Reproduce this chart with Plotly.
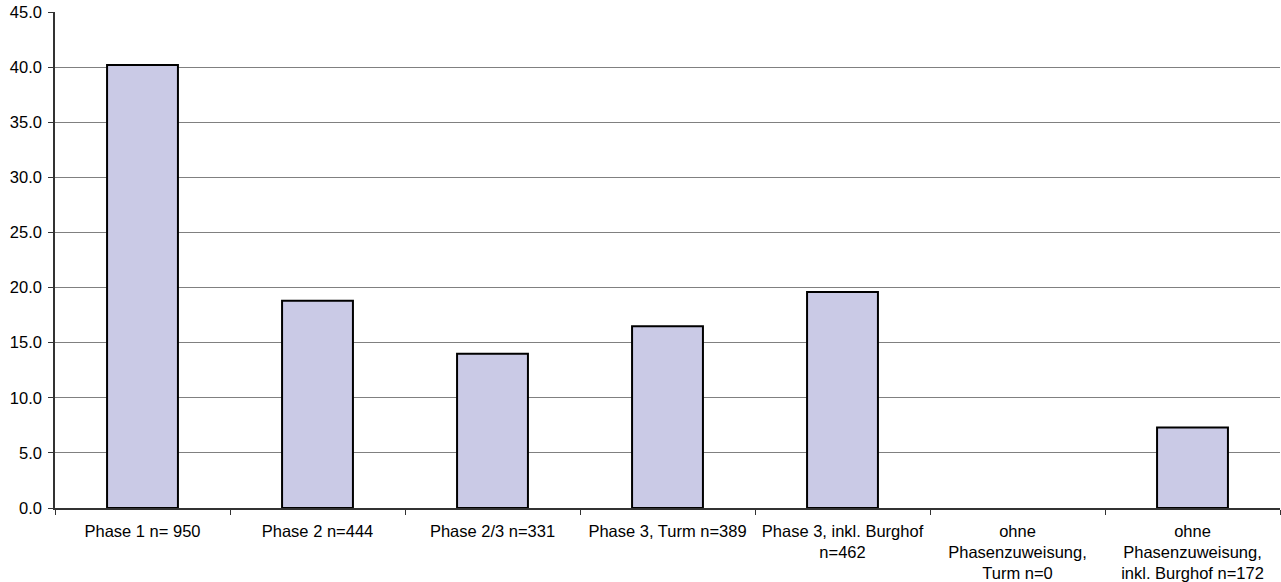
import plotly.graph_objects as go

categories = [
    "Phase 1 n= 950",
    "Phase 2 n=444",
    "Phase 2/3 n=331",
    "Phase 3, Turm n=389",
    "Phase 3, inkl. Burghof<br>n=462",
    "ohne<br>Phasenzuweisung,<br>Turm n=0",
    "ohne<br>Phasenzuweisung,<br>inkl. Burghof n=172",
]
values = [40.2, 18.8, 14.0, 16.5, 19.6, 0.0, 7.3]
y_ticks = [0, 5, 10, 15, 20, 25, 30, 35, 40, 45]

# empty categories get no outline so nothing is drawn on the baseline
outline_widths = [2 if v > 0 else 0 for v in values]

fig = go.Figure(
    go.Bar(
        x=categories,
        y=values,
        marker=dict(color="#CACAE6", line=dict(color="#000000", width=outline_widths)),
        hoverinfo="x+y",
    )
)

fig.update_layout(
    width=1281,
    height=582,
    margin=dict(l=55, r=1, t=12, b=74),
    paper_bgcolor="white",
    plot_bgcolor="white",
    bargap=0.595,
    showlegend=False,
    font=dict(family="Liberation Sans, Arial, sans-serif", size=16.5, color="#000000"),
)

fig.update_yaxes(
    range=[0, 45],
    tickvals=y_ticks,
    ticktext=[f"{v:.1f}" for v in y_ticks],
    tickfont=dict(size=16.5),
    ticklabelstandoff=3,
    showgrid=True,
    gridcolor="#808080",
    gridwidth=1,
    showline=True,
    linecolor="#333333",
    linewidth=1.5,
    ticks="outside",
    ticklen=5,
    tickcolor="#333333",
    zeroline=False,
    fixedrange=True,
)

fig.update_xaxes(
    showline=True,
    linecolor="#333333",
    linewidth=1.5,
    ticks="outside",
    tickson="boundaries",
    ticklen=5,
    tickcolor="#333333",
    ticklabelstandoff=7,
    showgrid=False,
    tickangle=0,
    fixedrange=True,
)

fig.write_html("out.html")
